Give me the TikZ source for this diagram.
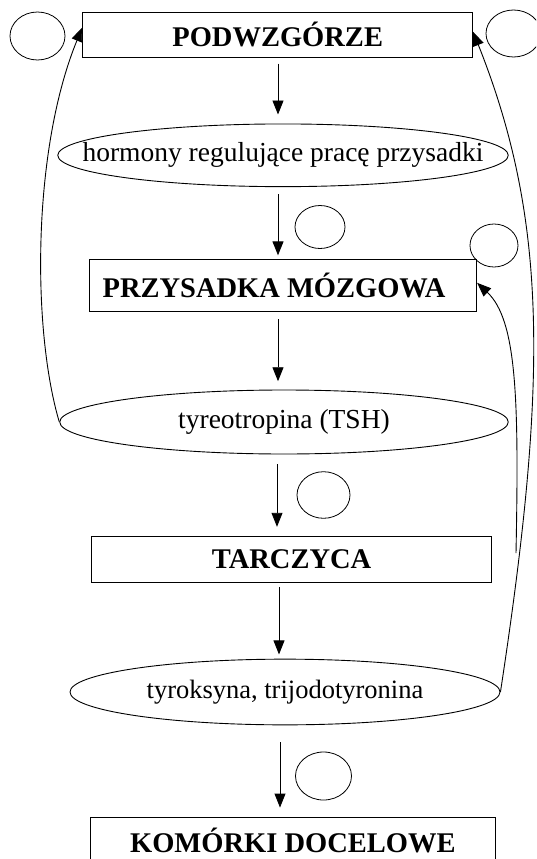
\documentclass[tikz,border=0pt]{standalone}
\usepackage{fontspec}
\setmainfont{Liberation Serif}
\usetikzlibrary{arrows.meta,shapes.geometric}
\begin{document}
\begin{tikzpicture}[x=1pt,y=-1pt,
  line width=0.9pt,
  boxnode/.style={draw, rectangle, inner sep=0pt, font=\fontsize{28.5}{30}\selectfont\bfseries},
  ellnode/.style={draw, ellipse, inner sep=0pt, font=\fontsize{27.5}{29}\selectfont},
  ring/.style={draw, ellipse, inner sep=0pt, line width=0.8pt},
  arr/.style={-{Triangle[width=11pt,length=14pt]}},
]
\useasboundingbox (0,0) rectangle (536,859);
\clip (0,0) rectangle (536,859);
\fill[white] (0,0) rectangle (536,859);

% main boxes and ellipses
\node[boxnode, minimum width=390pt, minimum height=45pt] (pod) at (277.7,34.8) {\raisebox{-2.5pt}{PODWZGÓRZE}};
\node[ellnode, minimum width=450.5pt, minimum height=62.7pt] (hor) at (283,155.3) {\makebox[0pt]{hormony regulujące pracę przysadki}};
\node[boxnode, minimum width=387.4pt, minimum height=52.4pt] (prz) at (283,285.5) {PRZYSADKA MÓZGOWA\hspace*{18pt}};
\node[ellnode, minimum width=448.5pt, minimum height=64pt] (tsh) at (284,422) {\makebox[0pt]{tyreotropina (TSH)}};
\node[boxnode, minimum width=400.2pt, minimum height=45.5pt] (tar) at (291.6,559.3) {\raisebox{-1.5pt}{TARCZYCA}};
\node[ellnode, minimum width=430pt, minimum height=65.7pt, font=\fontsize{26.5}{28}\selectfont] (tyr) at (285,692) {\makebox[0pt]{tyroksyna, trijodotyronina}};
\node[boxnode, minimum width=404.3pt, minimum height=46pt] (kom) at (292.85,840) {KOMÓRKI DOCELOWE};

% empty circles
\node[ring, minimum width=55pt, minimum height=48pt] (r1) at (37.5,36) {};
\node[ring, minimum width=55pt, minimum height=47pt] (r2) at (513.5,33.5) {};
\node[ring, minimum width=50pt, minimum height=43pt] (r3) at (320,227) {};
\node[ring, minimum width=48pt, minimum height=43pt] (r4) at (494,245.5) {};
\node[ring, minimum width=53pt, minimum height=46.6pt] (r5) at (323.5,495) {};
\node[ring, minimum width=56pt, minimum height=48pt] (r6) at (323.5,776) {};

% vertical arrows
\coordinate (ax) at (278,0);
\coordinate (bx) at (277,0);
\coordinate (cx) at (279,0);
\coordinate (dx) at (280,0);
\draw[arr, shorten <=6pt, shorten >=9pt] (pod.south -| ax) -- (hor.north -| ax);
\draw[arr, shorten <=7pt, shorten >=3.5pt] (hor.south -| ax) -- (prz.north -| ax);
\draw[arr, shorten <=7.3pt, shorten >=8.3pt] (prz.south -| ax) -- (tsh.north -| ax);
\draw[arr, shorten <=10pt, shorten >=9.3pt] (tsh.south -| bx) -- (tar.north -| bx);
\draw[arr, shorten <=4.4pt, shorten >=4.3pt] (tar.south -| cx) -- (tyr.north -| cx);
\draw[arr, shorten <=16.7pt, shorten >=9pt] (tyr.south -| dx) -- (kom.north -| dx);

% feedback connectors
\draw[arr] (tsh.west) .. controls (32,330) and (32,150) .. ([yshift=-15.7pt]pod.north west);
\draw[arr] (tyr.east) .. controls (548,380) and (548,220) .. ([yshift=-20pt]pod.north east);
\coordinate (br) at (516,553);
\draw[arr] (br) .. controls (519,400) and (517,320) .. ([yshift=-24pt]prz.north east);
\end{tikzpicture}
\end{document}
